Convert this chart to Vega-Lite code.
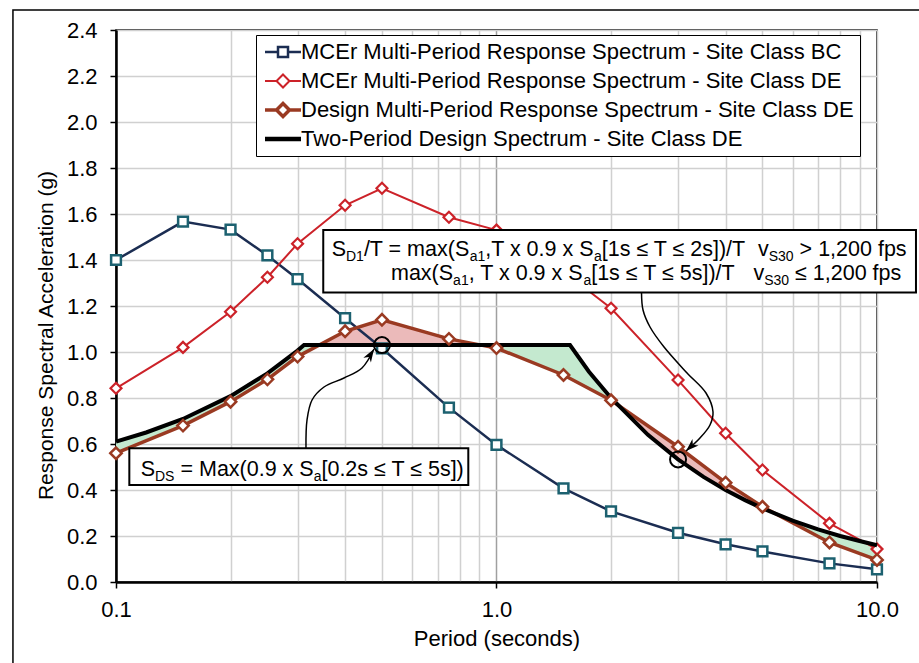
{
  "$schema": "https://vega.github.io/schema/vega-lite/v6.json",
  "width": 761,
  "height": 552,
  "autosize": "none",
  "padding": {"left": 116, "top": 30, "right": 42, "bottom": 81},
  "background": "white",
  "config": {
    "font": "Liberation Sans",
    "view": {"stroke": "black", "strokeWidth": 1.5},
    "text": {"font": "Liberation Sans", "color": "black", "align": "left", "baseline": "alphabetic", "fontSize": 21.5}
  },
  "datasets": {
    "spectra": [
      {"series": "MCEr Multi-Period Response Spectrum - Site Class BC", "T": 0.1, "Sa": 1.40},
      {"series": "MCEr Multi-Period Response Spectrum - Site Class BC", "T": 0.15, "Sa": 1.567},
      {"series": "MCEr Multi-Period Response Spectrum - Site Class BC", "T": 0.2, "Sa": 1.532},
      {"series": "MCEr Multi-Period Response Spectrum - Site Class BC", "T": 0.25, "Sa": 1.42},
      {"series": "MCEr Multi-Period Response Spectrum - Site Class BC", "T": 0.3, "Sa": 1.317},
      {"series": "MCEr Multi-Period Response Spectrum - Site Class BC", "T": 0.4, "Sa": 1.147},
      {"series": "MCEr Multi-Period Response Spectrum - Site Class BC", "T": 0.5, "Sa": 1.016},
      {"series": "MCEr Multi-Period Response Spectrum - Site Class BC", "T": 0.75, "Sa": 0.758},
      {"series": "MCEr Multi-Period Response Spectrum - Site Class BC", "T": 1.0, "Sa": 0.596},
      {"series": "MCEr Multi-Period Response Spectrum - Site Class BC", "T": 1.5, "Sa": 0.407},
      {"series": "MCEr Multi-Period Response Spectrum - Site Class BC", "T": 2.0, "Sa": 0.307},
      {"series": "MCEr Multi-Period Response Spectrum - Site Class BC", "T": 3.0, "Sa": 0.214},
      {"series": "MCEr Multi-Period Response Spectrum - Site Class BC", "T": 4.0, "Sa": 0.164},
      {"series": "MCEr Multi-Period Response Spectrum - Site Class BC", "T": 5.0, "Sa": 0.133},
      {"series": "MCEr Multi-Period Response Spectrum - Site Class BC", "T": 7.5, "Sa": 0.081},
      {"series": "MCEr Multi-Period Response Spectrum - Site Class BC", "T": 10.0, "Sa": 0.055},
      {"series": "MCEr Multi-Period Response Spectrum - Site Class DE", "T": 0.1, "Sa": 0.842},
      {"series": "MCEr Multi-Period Response Spectrum - Site Class DE", "T": 0.15, "Sa": 1.02},
      {"series": "MCEr Multi-Period Response Spectrum - Site Class DE", "T": 0.2, "Sa": 1.175},
      {"series": "MCEr Multi-Period Response Spectrum - Site Class DE", "T": 0.25, "Sa": 1.325},
      {"series": "MCEr Multi-Period Response Spectrum - Site Class DE", "T": 0.3, "Sa": 1.471},
      {"series": "MCEr Multi-Period Response Spectrum - Site Class DE", "T": 0.4, "Sa": 1.638},
      {"series": "MCEr Multi-Period Response Spectrum - Site Class DE", "T": 0.5, "Sa": 1.712},
      {"series": "MCEr Multi-Period Response Spectrum - Site Class DE", "T": 0.75, "Sa": 1.586},
      {"series": "MCEr Multi-Period Response Spectrum - Site Class DE", "T": 1.0, "Sa": 1.53},
      {"series": "MCEr Multi-Period Response Spectrum - Site Class DE", "T": 1.5, "Sa": 1.35},
      {"series": "MCEr Multi-Period Response Spectrum - Site Class DE", "T": 2.0, "Sa": 1.19},
      {"series": "MCEr Multi-Period Response Spectrum - Site Class DE", "T": 3.0, "Sa": 0.878},
      {"series": "MCEr Multi-Period Response Spectrum - Site Class DE", "T": 4.0, "Sa": 0.647},
      {"series": "MCEr Multi-Period Response Spectrum - Site Class DE", "T": 5.0, "Sa": 0.487},
      {"series": "MCEr Multi-Period Response Spectrum - Site Class DE", "T": 7.5, "Sa": 0.255},
      {"series": "MCEr Multi-Period Response Spectrum - Site Class DE", "T": 10.0, "Sa": 0.143},
      {"series": "Design Multi-Period Response Spectrum - Site Class DE", "T": 0.1, "Sa": 0.56},
      {"series": "Design Multi-Period Response Spectrum - Site Class DE", "T": 0.15, "Sa": 0.68},
      {"series": "Design Multi-Period Response Spectrum - Site Class DE", "T": 0.2, "Sa": 0.784},
      {"series": "Design Multi-Period Response Spectrum - Site Class DE", "T": 0.25, "Sa": 0.881},
      {"series": "Design Multi-Period Response Spectrum - Site Class DE", "T": 0.3, "Sa": 0.98},
      {"series": "Design Multi-Period Response Spectrum - Site Class DE", "T": 0.4, "Sa": 1.09},
      {"series": "Design Multi-Period Response Spectrum - Site Class DE", "T": 0.5, "Sa": 1.14},
      {"series": "Design Multi-Period Response Spectrum - Site Class DE", "T": 0.75, "Sa": 1.057},
      {"series": "Design Multi-Period Response Spectrum - Site Class DE", "T": 1.0, "Sa": 1.017},
      {"series": "Design Multi-Period Response Spectrum - Site Class DE", "T": 1.5, "Sa": 0.90},
      {"series": "Design Multi-Period Response Spectrum - Site Class DE", "T": 2.0, "Sa": 0.79},
      {"series": "Design Multi-Period Response Spectrum - Site Class DE", "T": 3.0, "Sa": 0.588},
      {"series": "Design Multi-Period Response Spectrum - Site Class DE", "T": 4.0, "Sa": 0.432},
      {"series": "Design Multi-Period Response Spectrum - Site Class DE", "T": 5.0, "Sa": 0.327},
      {"series": "Design Multi-Period Response Spectrum - Site Class DE", "T": 7.5, "Sa": 0.172},
      {"series": "Design Multi-Period Response Spectrum - Site Class DE", "T": 10.0, "Sa": 0.096}
    ],
    "twoPeriod": [
      {"T": 0.1, "Sa": 0.61}, {"T": 0.12, "Sa": 0.65}, {"T": 0.15, "Sa": 0.709},
      {"T": 0.2, "Sa": 0.808}, {"T": 0.25, "Sa": 0.907}, {"T": 0.3, "Sa": 1.006},
      {"T": 0.312, "Sa": 1.03}, {"T": 1.56, "Sa": 1.03}, {"T": 1.75, "Sa": 0.914},
      {"T": 2.0, "Sa": 0.80}, {"T": 2.5, "Sa": 0.64}, {"T": 3.0, "Sa": 0.533},
      {"T": 3.5, "Sa": 0.457}, {"T": 4.0, "Sa": 0.40}, {"T": 4.5, "Sa": 0.356},
      {"T": 5.0, "Sa": 0.32}, {"T": 6.0, "Sa": 0.267}, {"T": 7.0, "Sa": 0.229},
      {"T": 8.0, "Sa": 0.20}, {"T": 9.0, "Sa": 0.178}, {"T": 10.0, "Sa": 0.16}
    ],
    "fill": [
      {"region": "G1", "kind": "g", "T": 0.1, "Sa": 0.61, "Sa2": 0.56},
      {"region": "G1", "kind": "g", "T": 0.12, "Sa": 0.65, "Sa2": 0.614},
      {"region": "G1", "kind": "g", "T": 0.15, "Sa": 0.709, "Sa2": 0.68},
      {"region": "G1", "kind": "g", "T": 0.2, "Sa": 0.808, "Sa2": 0.784},
      {"region": "G1", "kind": "g", "T": 0.25, "Sa": 0.907, "Sa2": 0.881},
      {"region": "G1", "kind": "g", "T": 0.3, "Sa": 1.006, "Sa2": 0.98},
      {"region": "G1", "kind": "g", "T": 0.312, "Sa": 1.03, "Sa2": 0.995},
      {"region": "G1", "kind": "g", "T": 0.342, "Sa": 1.03, "Sa2": 1.03},
      {"region": "R1", "kind": "r", "T": 0.342, "Sa": 1.03, "Sa2": 1.03},
      {"region": "R1", "kind": "r", "T": 0.4, "Sa": 1.03, "Sa2": 1.09},
      {"region": "R1", "kind": "r", "T": 0.5, "Sa": 1.03, "Sa2": 1.14},
      {"region": "R1", "kind": "r", "T": 0.75, "Sa": 1.03, "Sa2": 1.057},
      {"region": "R1", "kind": "r", "T": 0.91, "Sa": 1.03, "Sa2": 1.03},
      {"region": "G2", "kind": "g", "T": 0.91, "Sa": 1.03, "Sa2": 1.03},
      {"region": "G2", "kind": "g", "T": 1.0, "Sa": 1.03, "Sa2": 1.017},
      {"region": "G2", "kind": "g", "T": 1.5, "Sa": 1.03, "Sa2": 0.90},
      {"region": "G2", "kind": "g", "T": 1.56, "Sa": 1.03, "Sa2": 0.885},
      {"region": "G2", "kind": "g", "T": 1.75, "Sa": 0.914, "Sa2": 0.841},
      {"region": "G2", "kind": "g", "T": 2.0, "Sa": 0.80, "Sa2": 0.79},
      {"region": "G2", "kind": "g", "T": 2.07, "Sa": 0.773, "Sa2": 0.773},
      {"region": "R2", "kind": "r", "T": 2.07, "Sa": 0.773, "Sa2": 0.773},
      {"region": "R2", "kind": "r", "T": 2.5, "Sa": 0.64, "Sa2": 0.679},
      {"region": "R2", "kind": "r", "T": 3.0, "Sa": 0.533, "Sa2": 0.588},
      {"region": "R2", "kind": "r", "T": 3.5, "Sa": 0.457, "Sa2": 0.504},
      {"region": "R2", "kind": "r", "T": 4.0, "Sa": 0.40, "Sa2": 0.432},
      {"region": "R2", "kind": "r", "T": 4.5, "Sa": 0.356, "Sa2": 0.377},
      {"region": "R2", "kind": "r", "T": 5.0, "Sa": 0.32, "Sa2": 0.327},
      {"region": "R2", "kind": "r", "T": 5.5, "Sa": 0.291, "Sa2": 0.291},
      {"region": "G3", "kind": "g", "T": 5.5, "Sa": 0.291, "Sa2": 0.291},
      {"region": "G3", "kind": "g", "T": 6.0, "Sa": 0.267, "Sa2": 0.257},
      {"region": "G3", "kind": "g", "T": 7.0, "Sa": 0.229, "Sa2": 0.198},
      {"region": "G3", "kind": "g", "T": 7.5, "Sa": 0.213, "Sa2": 0.172},
      {"region": "G3", "kind": "g", "T": 8.0, "Sa": 0.20, "Sa2": 0.155},
      {"region": "G3", "kind": "g", "T": 9.0, "Sa": 0.178, "Sa2": 0.124},
      {"region": "G3", "kind": "g", "T": 10.0, "Sa": 0.16, "Sa2": 0.096}
    ],
    "arrows": [
      {"arrow": 1, "i": 0, "T": 0.3157, "Sa": 0.5813},
      {"arrow": 1, "i": 1, "T": 0.3177, "Sa": 0.7043},
      {"arrow": 1, "i": 2, "T": 0.3275, "Sa": 0.7913},
      {"arrow": 1, "i": 3, "T": 0.3521, "Sa": 0.8478},
      {"arrow": 1, "i": 4, "T": 0.3974, "Sa": 0.8870},
      {"arrow": 1, "i": 5, "T": 0.4431, "Sa": 0.9304},
      {"arrow": 1, "i": 6, "T": 0.4765, "Sa": 1.0130},
      {"arrow": 2, "i": 0, "T": 2.405, "Sa": 1.2587},
      {"arrow": 2, "i": 1, "T": 2.427, "Sa": 1.1826},
      {"arrow": 2, "i": 2, "T": 2.532, "Sa": 1.1087},
      {"arrow": 2, "i": 3, "T": 2.756, "Sa": 1.0217},
      {"arrow": 2, "i": 4, "T": 3.168, "Sa": 0.9087},
      {"arrow": 2, "i": 5, "T": 3.553, "Sa": 0.8217},
      {"arrow": 2, "i": 6, "T": 3.707, "Sa": 0.7391},
      {"arrow": 2, "i": 7, "T": 3.640, "Sa": 0.6826},
      {"arrow": 2, "i": 8, "T": 3.426, "Sa": 0.6261},
      {"arrow": 2, "i": 9, "T": 3.148, "Sa": 0.5696}
    ]
  },
  "encoding": {
    "x": {
      "field": "T", "type": "quantitative",
      "scale": {"type": "log", "domain": [0.1, 10], "nice": false},
      "axis": {
        "title": "Period (seconds)",
        "values": [0.1, 0.2, 0.3, 0.4, 0.5, 0.6, 0.7, 0.8, 0.9, 1, 2, 3, 4, 5, 6, 7, 8, 9, 10],
        "labelExpr": "datum.value == 0.1 ? '0.1' : datum.value == 1 ? '1.0' : datum.value == 10 ? '10.0' : ''",
        "grid": true,
        "gridColor": {"condition": {"test": "datum.value == 1", "value": "#a0a0a0"}, "value": "#d0d0d0"},
        "gridWidth": 1.5,
        "tickOpacity": {"condition": {"test": "datum.value == 0.1 || datum.value == 1 || datum.value == 10", "value": 1}, "value": 0},
        "tickSize": 6, "tickColor": "black", "tickWidth": 1.5,
        "domainColor": "black", "domainWidth": 2.5,
        "labelFontSize": 22, "labelColor": "black", "labelPadding": 11,
        "labelFlush": false, "labelOverlap": false,
        "titleFontSize": 22, "titleFontWeight": "normal", "titleColor": "black",
        "titleY": 63, "titleBaseline": "alphabetic"
      }
    },
    "y": {
      "field": "Sa", "type": "quantitative",
      "scale": {"domain": [0, 2.4], "nice": false, "zero": false},
      "axis": {
        "title": "Response Spectral Acceleration (g)",
        "values": [0, 0.2, 0.4, 0.6, 0.8, 1.0, 1.2, 1.4, 1.6, 1.8, 2.0, 2.2, 2.4],
        "format": ".1f",
        "grid": true, "gridColor": "#d0d0d0", "gridWidth": 1.5,
        "tickSize": 6, "tickColor": "black", "tickWidth": 1.5,
        "domainColor": "black", "domainWidth": 2.5,
        "labelFontSize": 22, "labelColor": "black", "labelPadding": 13,
        "titleFontSize": 21, "titleFontWeight": "normal", "titleColor": "black",
        "titleX": -64, "titleY": 305, "titleBaseline": "alphabetic", "titleAlign": "center"
      }
    }
  },
  "layer": [
    {
      "data": {"name": "fill"},
      "mark": {"type": "area", "opacity": 1},
      "encoding": {
        "y2": {"field": "Sa2"},
        "detail": {"field": "region"},
        "color": {"field": "kind", "type": "nominal", "scale": {"domain": ["g", "r"], "range": ["#c4e9cf", "#ebbaba"]}, "legend": null}
      }
    },
    {
      "data": {"name": "spectra"},
      "transform": [{"filter": {"field": "series", "equal": "MCEr Multi-Period Response Spectrum - Site Class BC"}}],
      "layer": [
        {"mark": {"type": "line", "color": "#1b2d52", "strokeWidth": 2.5}},
        {"mark": {"type": "point", "shape": "square", "size": 95, "filled": true, "fill": "white", "stroke": "#1c6170", "strokeWidth": 2.5, "opacity": 1}}
      ]
    },
    {
      "data": {"name": "spectra"},
      "transform": [{"filter": {"field": "series", "equal": "MCEr Multi-Period Response Spectrum - Site Class DE"}}],
      "layer": [
        {"mark": {"type": "line", "color": "#cc2229", "strokeWidth": 2}},
        {"mark": {"type": "point", "shape": "diamond", "size": 120, "filled": true, "fill": "white", "stroke": "#cc2229", "strokeWidth": 2.2, "opacity": 1}}
      ]
    },
    {
      "data": {"name": "spectra"},
      "transform": [{"filter": {"field": "series", "equal": "Design Multi-Period Response Spectrum - Site Class DE"}}],
      "mark": {"type": "line", "color": "#9a3a22", "strokeWidth": 3.5}
    },
    {
      "data": {"name": "twoPeriod"},
      "mark": {"type": "line", "color": "#000000", "strokeWidth": 4}
    },
    {
      "data": {"name": "spectra"},
      "transform": [{"filter": {"field": "series", "equal": "Design Multi-Period Response Spectrum - Site Class DE"}}],
      "mark": {"type": "point", "shape": "diamond", "size": 130, "filled": true, "fill": "white", "stroke": "#9a3a22", "strokeWidth": 2.5, "opacity": 1}
    },
    {
      "data": {"values": [{"T": 0.5, "Sa": 1.03}, {"T": 3.0, "Sa": 0.533}]},
      "mark": {"type": "point", "shape": "circle", "size": 256, "filled": false, "stroke": "black", "strokeWidth": 2, "opacity": 1}
    },
    {
      "data": {"name": "arrows"},
      "mark": {"type": "line", "color": "black", "strokeWidth": 1.5, "interpolate": "catmull-rom"},
      "encoding": {"detail": {"field": "arrow"}, "order": {"field": "i", "type": "quantitative"}}
    },
    {
      "data": {"values": [{"T": 0.4765, "Sa": 1.013}]},
      "mark": {"type": "point", "shape": "M0,0L0.55,1.6L0,1.15L-0.55,1.6Z", "size": 263, "angle": 32, "filled": true, "color": "black", "opacity": 1}
    },
    {
      "data": {"values": [{"T": 3.148, "Sa": 0.5696}]},
      "mark": {"type": "point", "shape": "M0,0L0.55,1.6L0,1.15L-0.55,1.6Z", "size": 263, "angle": 227, "filled": true, "color": "black", "opacity": 1}
    },
    {
      "data": {"values": [
        {"T": 0.3505, "T2": 12.66, "Sa": 1.5304, "Sa2": 1.2587},
        {"T": 0.1084, "T2": 0.8431, "Sa": 0.5813, "Sa2": 0.4217}
      ]},
      "mark": {"type": "rect", "fill": "white", "stroke": "black", "strokeWidth": 2},
      "encoding": {"x2": {"field": "T2"}, "y2": {"field": "Sa2"}}
    },
    {
      "data": {"values": [{"T": 0.3688, "Sa": 1.4174}]},
      "layer": [
        {"mark": {"type": "text", "text": "S", "dx": 0}},
        {"mark": {"type": "text", "text": "D1", "dx": 14.34, "dy": 5, "fontSize": 14}},
        {"mark": {"type": "text", "text": "/T = max(S", "dx": 32.23}},
        {"mark": {"type": "text", "text": "a1", "dx": 137.97, "dy": 5, "fontSize": 14}},
        {"mark": {"type": "text", "text": ",T x 0.9 x S", "dx": 153.54}},
        {"mark": {"type": "text", "text": "a", "dx": 262.29, "dy": 5, "fontSize": 14}},
        {"mark": {"type": "text", "text": "[1s ≤ T ≤ 2s])/T", "dx": 270.07}},
        {"mark": {"type": "text", "text": "v", "dx": 426.31}},
        {"mark": {"type": "text", "text": "S30", "dx": 437.06, "dy": 5, "fontSize": 14}},
        {"mark": {"type": "text", "text": "> 1,200 fps", "dx": 467.95}}
      ]
    },
    {
      "data": {"values": [{"T": 0.5281, "Sa": 1.3152}]},
      "layer": [
        {"mark": {"type": "text", "text": "max(S", "dx": 0}},
        {"mark": {"type": "text", "text": "a1", "dx": 62.11, "dy": 5, "fontSize": 14}},
        {"mark": {"type": "text", "text": ", T x 0.9 x S", "dx": 77.68}},
        {"mark": {"type": "text", "text": "a", "dx": 192.4, "dy": 5, "fontSize": 14}},
        {"mark": {"type": "text", "text": "[1s ≤ T ≤ 5s])/T", "dx": 200.18}},
        {"mark": {"type": "text", "text": "v", "dx": 362.4}},
        {"mark": {"type": "text", "text": "S30", "dx": 373.15, "dy": 5, "fontSize": 14}},
        {"mark": {"type": "text", "text": "≤ 1,200 fps", "dx": 404.04}}
      ]
    },
    {
      "data": {"values": [{"T": 0.1161, "Sa": 0.4609}]},
      "layer": [
        {"mark": {"type": "text", "text": "S", "dx": 0}},
        {"mark": {"type": "text", "text": "DS", "dx": 14.34, "dy": 5, "fontSize": 14}},
        {"mark": {"type": "text", "text": "= Max(0.9 x S", "dx": 39.77}},
        {"mark": {"type": "text", "text": "a", "dx": 173.01, "dy": 5, "fontSize": 14}},
        {"mark": {"type": "text", "text": "[0.2s ≤ T ≤ 5s])", "dx": 180.79}}
      ]
    },
    {
      "data": {"values": [{"T": 0.0536, "T2": 20, "Sa": 2.487, "Sa2": -0.5}]},
      "mark": {"type": "rect", "fill": "transparent", "stroke": "black", "strokeWidth": 1.5},
      "encoding": {"x2": {"field": "T2"}, "y2": {"field": "Sa2"}}
    },
    {
      "data": {"name": "spectra"},
      "transform": [{"filter": "datum.T < 0"}],
      "mark": {"type": "point", "opacity": 1, "filled": false},
      "encoding": {
        "shape": {
          "field": "series", "type": "nominal",
          "scale": {
            "domain": [
              "MCEr Multi-Period Response Spectrum - Site Class BC",
              "MCEr Multi-Period Response Spectrum - Site Class DE",
              "Design Multi-Period Response Spectrum - Site Class DE",
              "Two-Period Design Spectrum - Site Class DE"
            ],
            "range": [
              "M-1,0H0.625M1.875,0H3.5M0.625,-0.625H1.875V0.625H0.625Z",
              "M-1,0H0.44M2.06,0H3.5M1.25,-0.81L2.06,0L1.25,0.81L0.44,0Z",
              "M-1,0H0.44M2.06,0H3.5M1.25,-0.81L2.06,0L1.25,0.81L0.44,0Z",
              "M-1,0H3.5"
            ]
          },
          "legend": {
            "title": null,
            "orient": "none", "legendX": 140, "legendY": 5,
            "strokeColor": "black", "fillColor": "white", "padding": 6,
            "labelFont": "Liberation Sans", "labelFontSize": 22, "labelColor": "black", "labelLimit": 1000, "labelOffset": 17,
            "symbolSize": 256, "rowPadding": 7, "clipHeight": 22
          }
        },
        "stroke": {
          "field": "series", "type": "nominal",
          "scale": {
            "domain": [
              "MCEr Multi-Period Response Spectrum - Site Class BC",
              "MCEr Multi-Period Response Spectrum - Site Class DE",
              "Design Multi-Period Response Spectrum - Site Class DE",
              "Two-Period Design Spectrum - Site Class DE"
            ],
            "range": ["#1b2d52", "#cc2229", "#9a3a22", "#000000"]
          },
          "legend": {
            "title": null,
            "orient": "none", "legendX": 140, "legendY": 5,
            "strokeColor": "black", "fillColor": "white", "padding": 6,
            "labelFont": "Liberation Sans", "labelFontSize": 22, "labelColor": "black", "labelLimit": 1000, "labelOffset": 17,
            "symbolSize": 256, "rowPadding": 7, "clipHeight": 22
          }
        },
        "strokeWidth": {
          "field": "series", "type": "nominal",
          "scale": {
            "type": "ordinal",
            "domain": [
              "MCEr Multi-Period Response Spectrum - Site Class BC",
              "MCEr Multi-Period Response Spectrum - Site Class DE",
              "Design Multi-Period Response Spectrum - Site Class DE",
              "Two-Period Design Spectrum - Site Class DE"
            ],
            "range": [2.5, 2, 3.5, 4.5]
          },
          "legend": {
            "title": null,
            "orient": "none", "legendX": 140, "legendY": 5,
            "strokeColor": "black", "fillColor": "white", "padding": 6,
            "labelFont": "Liberation Sans", "labelFontSize": 22, "labelColor": "black", "labelLimit": 1000, "labelOffset": 17,
            "symbolSize": 256, "rowPadding": 7, "clipHeight": 22
          }
        }
      }
    }
  ]
}
